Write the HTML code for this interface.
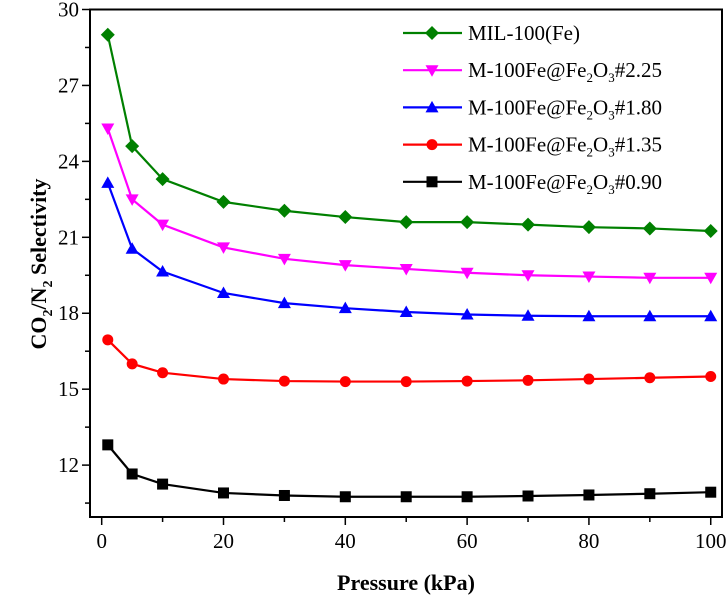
<!DOCTYPE html>
<html><head><meta charset="utf-8"><style>
body{margin:0;background:#fff}
svg{display:block}
svg text{font-family:"Liberation Serif","DejaVu Serif",serif}
</style></head><body>
<svg id="c" width="728" height="601" font-family="Liberation Serif, DejaVu Serif, serif"></svg>
<script>
const xs=[1,5,10,20,30,40,50,60,70,80,90,100];
const sGreen=[29.0,24.6,23.3,22.4,22.05,21.8,21.6,21.6,21.5,21.4,21.35,21.25];
const sMagenta=[25.3,22.5,21.5,20.6,20.15,19.9,19.75,19.6,19.5,19.45,19.4,19.4];
const sBlue=[23.15,20.55,19.65,18.8,18.4,18.2,18.05,17.95,17.9,17.88,17.88,17.88];
const sRed=[16.95,16.0,15.65,15.4,15.32,15.3,15.3,15.32,15.35,15.4,15.45,15.5];
const sBlack=[12.8,11.65,11.25,10.9,10.8,10.75,10.75,10.75,10.78,10.82,10.87,10.93];
const xTicks=[0,20,40,60,80,100];
const yTicks=[12,15,18,21,24,27,30];
const NS="http://www.w3.org/2000/svg";
const svg=document.getElementById('c');
const L=90,R=722,T=9.5,B=517,X0=-1.92,X1=101.85,Y0=9.95,Y1=30;
const sx=v=>L+(v-X0)/(X1-X0)*(R-L);
const sy=v=>B-(v-Y0)/(Y1-Y0)*(B-T);
const FF='Liberation Serif, DejaVu Serif, serif';
function el(t,a,p){const e=document.createElementNS(NS,t);for(const k in a)e.setAttribute(k,a[k]);if(t==='text')e.setAttribute('font-family',FF);(p||svg).appendChild(e);return e;}
for(let v=0;v<=100;v+=10){const maj=v%20===0;const t=el('line',{x1:sx(v),x2:sx(v),y1:B,y2:B+(maj?8:5),stroke:'#000','stroke-width':1.5});

}
for(let v=10.5;v<=30.01;v+=1.5){const maj=Math.abs((v/3)-Math.round(v/3))<0.01;const t=el('line',{x1:L,x2:L-(maj?8:5),y1:sy(v),y2:sy(v),stroke:'#000','stroke-width':1.5});

}
xTicks.forEach(v=>{const t=el('text',{x:sx(v),y:B+31,'text-anchor':'middle','font-size':21});t.textContent=v;

});
yTicks.forEach(v=>{const t=el('text',{x:L-11,y:sy(v)+7,'text-anchor':'end','font-size':21});t.textContent=v;

});
const fr=el('rect',{x:L,y:T,width:R-L,height:B-T,fill:'none',stroke:'#000','stroke-width':2});


const xt=el('text',{x:406,y:590,'text-anchor':'middle','font-size':22,'font-weight':'bold'});xt.textContent='Pressure (kPa)';


const yt=el('text',{transform:'translate(46,264) rotate(-90)','text-anchor':'middle','font-size':22,'font-weight':'bold'});
yt.innerHTML='CO<tspan font-size="14" dy="6">2</tspan><tspan dy="-6">/N</tspan><tspan font-size="14" dy="6">2</tspan><tspan dy="-6"> Selectivity</tspan>';


function marker(g,type,x,y,c){
 if(type==='d')el('polygon',{points:`${x},${y-7} ${x+7},${y} ${x},${y+7} ${x-7},${y}`,fill:c},g);
 else if(type==='v')el('polygon',{points:`${x-6.5},${y-5} ${x+6.5},${y-5} ${x},${y+6.5}`,fill:c},g);
 else if(type==='^')el('polygon',{points:`${x-6.5},${y+5} ${x+6.5},${y+5} ${x},${y-6.5}`,fill:c},g);
 else if(type==='o')el('circle',{cx:x,cy:y,r:5.5,fill:c},g);
 else el('rect',{x:x-5.5,y:y-5.5,width:11,height:11,fill:c},g);
}
const series=[[sGreen,'#008000','d','series-mil-100fe'],[sMagenta,'#ff00ff','v','series-2-25'],[sBlue,'#0000ff','^','series-1-80'],[sRed,'#ff0000','o','series-1-35'],[sBlack,'#000','s','series-0-90']];
series.forEach(([d,c,m,n])=>{const g=el('g',{});


el('polyline',{points:d.map((v,i)=>sx(xs[i])+','+sy(v)).join(' '),fill:'none',stroke:c,'stroke-width':2.2},g);
d.forEach((v,i)=>marker(g,m,sx(xs[i]),sy(v),c));});
const lg=el('g',{});


const labels=['MIL-100(Fe)','M-100Fe@Fe<tspan font-size="13" dy="5">2</tspan><tspan dy="-5">O</tspan><tspan font-size="13" dy="5">3</tspan><tspan dy="-5">#2.25</tspan>','M-100Fe@Fe<tspan font-size="13" dy="5">2</tspan><tspan dy="-5">O</tspan><tspan font-size="13" dy="5">3</tspan><tspan dy="-5">#1.80</tspan>','M-100Fe@Fe<tspan font-size="13" dy="5">2</tspan><tspan dy="-5">O</tspan><tspan font-size="13" dy="5">3</tspan><tspan dy="-5">#1.35</tspan>','M-100Fe@Fe<tspan font-size="13" dy="5">2</tspan><tspan dy="-5">O</tspan><tspan font-size="13" dy="5">3</tspan><tspan dy="-5">#0.90</tspan>'];
series.forEach(([d,c,m],i)=>{const y=33+i*37.2;const g=el('g',{},lg);


el('line',{x1:403,x2:462,y1:y,y2:y,stroke:c,'stroke-width':2.2},g);marker(g,m,432,y,c);
const t=el('text',{x:468,y:y+7,'font-size':21},g);t.innerHTML=labels[i];});
</script>
</body></html>
